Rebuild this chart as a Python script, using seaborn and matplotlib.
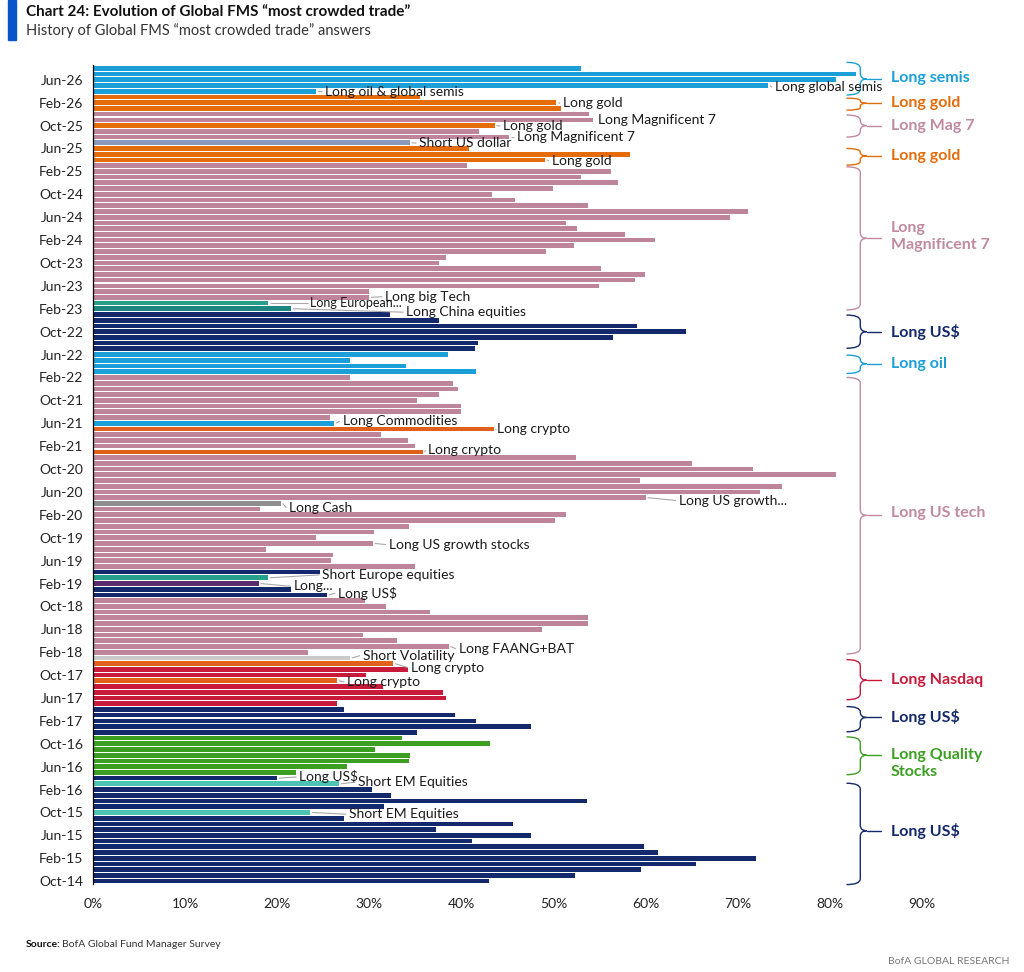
import numpy as np
import pandas as pd
import seaborn as sns
import matplotlib.pyplot as plt
from matplotlib.path import Path
from matplotlib.patches import PathPatch, Rectangle
from matplotlib.ticker import FuncFormatter

# Global FMS "most crowded trade": share of answers (%) for the top answer each month
# months run Oct-14 .. Aug-26 (as labelled on the source chart)
months = list(pd.date_range('2014-10-01', '2026-08-01', freq='MS').strftime('%b-%y'))

share = [
    43.0, 52.3, 59.5,                                                            # 2014
    65.5, 72.0, 61.3, 59.8, 41.1, 47.5, 37.2, 45.6, 27.2, 23.6, 31.6, 53.6,      # 2015
    32.3, 30.3, 26.7, 20.0, 22.0, 27.6, 34.3, 34.4, 30.6, 43.1, 33.5, 35.2,      # 2016
    47.6, 41.6, 39.3, 27.2, 26.5, 38.3, 38.0, 31.5, 26.5, 29.6, 34.2, 32.6,      # 2017
    27.9, 23.3, 38.6, 33.0, 29.3, 48.7, 53.7, 53.7, 36.6, 31.8, 29.5, 25.4,      # 2018
    21.5, 18.0, 19.0, 24.6, 35.0, 25.8, 26.1, 18.8, 30.4, 24.2, 30.5, 34.3,      # 2019
    50.2, 51.3, 18.1, 20.4, 60.0, 72.4, 74.8, 59.4, 80.7, 71.6, 65.0, 52.4,      # 2020
    35.8, 35.0, 34.2, 31.3, 43.5, 26.2, 25.7, 39.9, 39.9, 35.2, 37.6, 39.6,      # 2021
    39.1, 27.9, 41.6, 34.0, 27.9, 38.5, 41.5, 41.8, 56.4, 64.4, 59.1, 37.6,      # 2022
    32.2, 21.5, 19.0, 30.0, 30.0, 54.9, 58.8, 59.9, 55.1, 37.6, 38.3, 49.2,      # 2023
    52.2, 61.0, 57.8, 52.5, 51.4, 69.2, 71.1, 53.7, 45.8, 43.3, 49.9, 57.0,      # 2024
    53.0, 56.2, 40.6, 49.1, 58.3, 40.8, 34.4, 45.2, 41.9, 43.6, 54.3, 53.9,      # 2025
    50.8, 50.3, 35.5, 24.2, 73.3, 80.7, 82.8, 53.0,                              # 2026
]

# which trade was the answer, as consecutive runs (oldest first)
trade_runs = [
    ('usd', 12), ('short_em', 1), ('usd', 4), ('short_em', 1), ('usd', 1),
    ('quality', 7), ('usd', 5), ('nasdaq', 4), ('crypto', 1), ('nasdaq', 2),
    ('crypto', 1), ('short_vol', 1), ('tech', 10), ('usd', 2), ('other', 1),
    ('short_eu', 1), ('usd', 1), ('tech', 11), ('cash', 1), ('tech', 8),
    ('crypto', 1), ('tech', 3), ('crypto', 1), ('commod', 1), ('tech', 8),
    ('oil', 4), ('usd', 7), ('china', 1), ('europe', 1), ('mag7', 24),
    ('gold', 3), ('short_usd', 1), ('mag7', 2), ('gold', 1), ('mag7', 2),
    ('gold', 3), ('semis', 5),
]
trade = [t for t, n in trade_runs for _ in range(n)]

# bar annotations: month, text
notes = [
    ('May-26', 'Long global semis'), ('Apr-26', 'Long oil & global semis'),
    ('Feb-26', 'Long gold'), ('Nov-25', 'Long Magnificent 7'),
    ('Oct-25', 'Long gold'), ('Aug-25', 'Long Magnificent 7'),
    ('Jul-25', 'Short US dollar'), ('Apr-25', 'Long gold'),
    ('Apr-23', 'Long big Tech'), ('Mar-23', 'Long European...'),
    ('Feb-23', 'Long China equities'), ('Jun-21', 'Long Commodities'),
    ('May-21', 'Long crypto'), ('Jan-21', 'Long crypto'),
    ('May-20', 'Long US growth...'), ('Apr-20', 'Long Cash'),
    ('Sep-19', 'Long US growth stocks'), ('Mar-19', 'Short Europe equities'),
    ('Feb-19', 'Long...'), ('Dec-18', 'Long US$'),
    ('Mar-18', 'Long FAANG+BAT'), ('Jan-18', 'Short Volatility'),
    ('Dec-17', 'Long crypto'), ('Sep-17', 'Long crypto'),
    ('Apr-16', 'Long US$'), ('Mar-16', 'Short EM Equities'),
    ('Oct-15', 'Short EM Equities'),
]
# where each note's text sits: x in %, y in bar slots from the top
note_pos = [
    (74.0, 3.3), (25.2, 4.1), (51.0, 6.1), (54.8, 9.0), (44.5, 10.1), (46.0, 12.0),
    (35.4, 13.05), (49.8, 16.2), (31.7, 39.9), (23.6, 41.0), (34.0, 42.6),
    (27.1, 61.6), (43.9, 63.0), (36.4, 66.7), (63.6, 75.5), (21.3, 76.8),
    (32.1, 83.2), (24.9, 88.5), (21.8, 90.5), (26.6, 91.7), (39.7, 101.4),
    (29.3, 102.6), (34.5, 104.7), (27.6, 107.2), (22.4, 123.8), (28.8, 124.7),
    (27.8, 130.3),
]
small_notes = {'Long European...'}  # squeezed in under "Long big Tech"

# right-hand group braces: label, colour key, top, bottom, tip, label y (bar slots)
braces = [
    ('Long semis', 'semis', -1.05, 4.65, 1.85, 1.7),
    ('Long gold', 'gold', 5.2, 7.3, 6.1, 6.1),
    ('Long Mag 7', 'mag7', 8.15, 12.0, 10.0, 10.0),
    ('Long gold', 'gold', 14.0, 16.9, 15.3, 15.3),
    ('Long\nMagnificent 7', 'mag7', 17.2, 42.2, 29.7, 29.4),
    ('Long US$', 'usd', 43.1, 48.9, 46.0, 46.0),
    ('Long oil', 'oil', 50.1, 53.3, 51.6, 51.6),
    ('Long US tech', 'tech', 54.0, 102.3, 78.1, 77.6),
    ('Long Nasdaq', 'nasdaq', 103.3, 110.3, 106.9, 106.9),
    ('Long US$', 'usd', 111.5, 115.9, 113.4, 113.4),
    ('Long Quality\nStocks', 'quality', 116.8, 123.4, 120.0, 121.5),
    ('Long US$', 'usd', 124.9, 142.6, 133.2, 133.2),
]

palette = {
    'usd': '#14296b', 'short_em': '#4cc3b3', 'quality': '#3c9f22',
    'nasdaq': '#c81b3c', 'crypto': '#e0601c', 'short_vol': '#cacaca',
    'tech': '#be8499', 'mag7': '#be8499', 'other': '#5a2c6c',
    'short_eu': '#25a08c', 'cash': '#8e8e8e', 'commod': '#1b9fd9',
    'oil': '#1b9fd9', 'semis': '#1b9fd9', 'china': '#1d857f',
    'europe': '#2a9e89', 'gold': '#e46c0a', 'short_usd': '#8a98bb',
}
label_colours = dict(palette, mag7='#c08aa0', tech='#c08aa0')

sns.set_style('white')
plt.rcParams['font.family'] = ['Lato', 'DejaVu Sans']

df = pd.DataFrame({'month': months, 'share': share, 'trade': trade})
order = months[::-1]  # latest month on top
slot = {m: i for i, m in enumerate(order)}

fig = plt.figure(figsize=(10.24, 9.72), dpi=100)
W, H = 1024, 972
ax = fig.add_axes([93 / W, 1 - 884 / H, (922 - 93) / W, (884 - 65.5) / H])

sns.barplot(data=df, x='share', y='month', hue='trade', order=order,
            palette=palette, dodge=False, saturation=1, width=0.82,
            linewidth=0, legend=False, ax=ax)

ax.set_xlim(0, 90)
ax.set_ylim(len(order) - 0.5, -0.5)
ax.set_xticks(np.arange(0, 91, 10))
ax.xaxis.set_major_formatter(FuncFormatter(lambda v, p: f'{v:.0f}%'))
tick_months = months[::4]
ax.set_yticks([slot[m] for m in tick_months])
ax.set_yticklabels(tick_months)
ax.set_xlabel('')
ax.set_ylabel('')
ax.tick_params(axis='both', length=0, labelsize=10, colors='#222222')
ax.tick_params(axis='x', pad=10)
ax.tick_params(axis='y', pad=7)
for s in ['top', 'right', 'bottom']:
    ax.spines[s].set_visible(False)
ax.spines['left'].set_color('#000000')
ax.spines['left'].set_linewidth(0.9)

# bar notes with small leader lines
for (m, txt), (tx, ty) in zip(notes, note_pos):
    v = share[months.index(m)]
    ax.plot([v + 0.2, tx - 0.3], [slot[m], ty], color='#a8a8a8', lw=0.8,
            solid_capstyle='butt', clip_on=False, zorder=3)
    ax.text(tx, ty, txt, fontsize=9 if txt in small_notes else 10,
            color='#1a1a1a', va='center', ha='left', zorder=4, clip_on=False)

# curly braces on the right
def draw_brace(top, bottom, tip, colour):
    xv, xe, xt = 83.3, 81.8, 84.0
    r = min(1.0, (tip - top) / 2, (bottom - tip) / 2)
    verts = [(xe, top), (xv, top), (xv, top + r),
             (xv, tip - r), (xv, tip), (xt, tip),
             (xv, tip), (xv, tip + r),
             (xv, bottom - r), (xv, bottom), (xe, bottom)]
    codes = [Path.MOVETO, Path.CURVE3, Path.CURVE3,
             Path.LINETO, Path.CURVE3, Path.CURVE3,
             Path.CURVE3, Path.CURVE3,
             Path.LINETO, Path.CURVE3, Path.CURVE3]
    ax.add_patch(PathPatch(Path(verts, codes), fill=False, edgecolor=colour,
                           lw=1.0, clip_on=False))
    ax.plot([xt, 85.6], [tip, tip], color=colour, lw=1.0, clip_on=False)

for lab, key, top, bottom, tip, ly in braces:
    col = label_colours[key]
    draw_brace(top, bottom, tip, col)
    ax.text(86.6, ly, lab, color=col, fontsize=11.5, fontweight='bold',
            va='center', ha='left', linespacing=1.3, clip_on=False)

# title block
fig.patches.append(Rectangle((8 / W, 1 - 40 / H), 8 / W, 40 / H,
                             transform=fig.transFigure, color='#0a54c9'))
fig.text(26 / W, 1 - 12 / H, 'Chart 24: Evolution of Global FMS \u201cmost crowded trade\u201d',
         fontsize=11, fontweight='bold', color='#111111', va='center', ha='left')
fig.text(26 / W, 1 - 31 / H, 'History of Global FMS \u201cmost crowded trade\u201d answers',
         fontsize=10.5, color='#333333', va='center', ha='left')

# footer
fig.text(26 / W, 1 - 944 / H, 'Source:', fontsize=7.5, fontweight='bold',
         color='#111111', va='center', ha='left')
fig.text(62 / W, 1 - 944 / H, 'BofA Global Fund Manager Survey', fontsize=7.5,
         color='#333333', va='center', ha='left')
fig.text(1010 / W, 1 - 961 / H, 'BofA GLOBAL RESEARCH', fontsize=7.5,
         color='#777777', va='center', ha='right')

fig.savefig('out.png', dpi=100)
